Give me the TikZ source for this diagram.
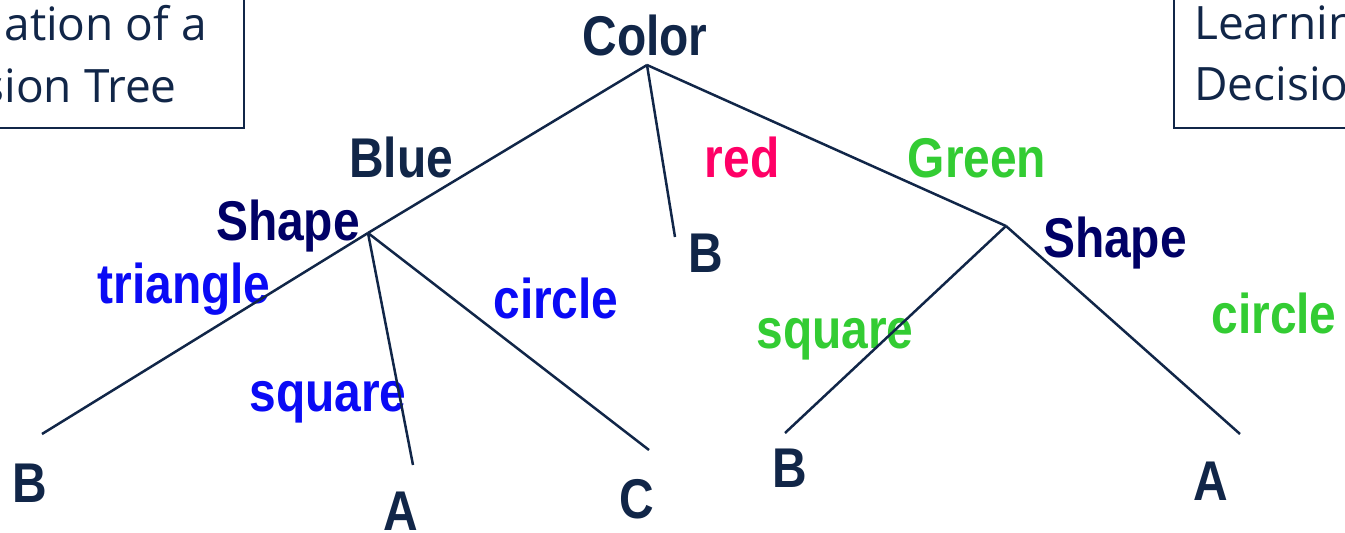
\documentclass[tikz,border=0pt]{standalone}
\usepackage{fontspec}
\setmainfont{Liberation Sans}
\newfontfamily\boxfont{Open Sans}
\definecolor{navy}{RGB}{17,38,72}
\definecolor{shapeblue}{RGB}{0,0,102}
\definecolor{lblblue}{RGB}{10,10,245}
\definecolor{lblred}{RGB}{255,0,102}
\definecolor{lblgreen}{RGB}{51,204,51}
\newcommand{\sqz}[1]{\scalebox{0.856}[1]{#1}}
\begin{document}
\begin{tikzpicture}[x=1pt,y=-1pt,
  lbl/.style={anchor=base, inner sep=0pt, font=\fontsize{56}{60}\selectfont\bfseries},
  dark/.style={lbl, text=navy},
  shp/.style={lbl, text=shapeblue},
  bl/.style={lbl, text=lblblue},
  rd/.style={lbl, text=lblred},
  gr/.style={lbl, text=lblgreen},
  edge/.style={draw=navy, line width=2.5pt},
  boxline/.style={draw=navy, line width=2pt},
  boxtxt/.style={inner sep=0pt, text=navy, font=\boxfont\fontsize{46}{56}\selectfont}
]
\path[use as bounding box, clip] (0,0) rectangle (1345,533);

% title boxes (cut off at the edges)
\draw[boxline] (-300,-50) rectangle (244,128);
\node[boxtxt, anchor=base east] (tl1) at (207,40) {ation of a};
\node[boxtxt, anchor=base east] (tl2) at (177,102) {sion Tree};
\draw[boxline] (1174,128) rectangle (1700,-50);
\node[boxtxt, anchor=base west] (tr1) at (1194,39) {Learning};
\node[boxtxt, anchor=base west] (tr2) at (1194,100) {Decision};

% tree labels
\node[dark] (color) at (645,55) {\sqz{Color}};
\node[dark] (blue) at (401,177) {\sqz{Blue}};
\node[rd] (red) at (742,177) {\sqz{red}};
\node[gr] (green) at (977,177) {\sqz{Green}};
\node[shp] (shapeL) at (288,240) {\sqz{Shape}};
\node[shp] (shapeR) at (1115,257) {\sqz{Shape}};
\node[bl] (triangle) at (184,303) {\sqz{triangle}};
\node[bl] (squareL) at (328,411) {\sqz{square}};
\node[bl] (circleL) at (556,318) {\sqz{circle}};
\node[gr] (squareR) at (835,348) {\sqz{square}};
\node[gr] (circleR) at (1274,333) {\sqz{circle}};
\node[dark] (Bmid) at (706,272) {\sqz{B}};
\node[dark] (B1) at (30,502) {\sqz{B}};
\node[dark] (A1) at (401,530) {\sqz{A}};
\node[dark] (C1) at (637,518) {\sqz{C}};
\node[dark] (B2) at (790,487) {\sqz{B}};
\node[dark] (A2) at (1211,500) {\sqz{A}};

% junction and end points
\coordinate (root) at (647,65);
\coordinate (jL) at (368,233);
\coordinate (jR) at (1006,226);
\coordinate (eB1) at (42,434);
\coordinate (eA1) at (413,465);
\coordinate (eC1) at (649,450);
\coordinate (eBmid) at (675,237);
\coordinate (eB2) at (785,433);
\coordinate (eA2) at (1240,434);

% connectors
\draw[edge] (root) -- (jL);
\draw[edge] (root) -- (eBmid);
\draw[edge] (root) -- (jR);
\draw[edge] (jL) -- (eB1);
\draw[edge] (jL) -- (eA1);
\draw[edge] (jL) -- (eC1);
\draw[edge] (jR) -- (eB2);
\draw[edge] (jR) -- (eA2);
\end{tikzpicture}
\end{document}
